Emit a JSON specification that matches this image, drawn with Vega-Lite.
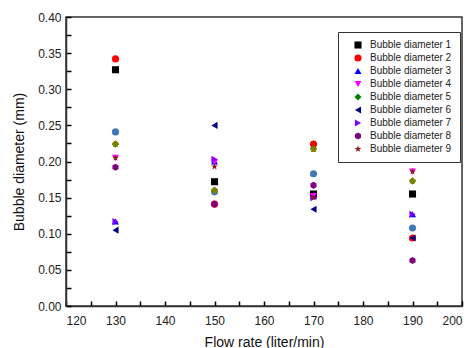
{
  "$schema": "https://vega.github.io/schema/vega-lite/v6.json",
  "width": 396,
  "height": 289,
  "autosize": {"type": "none"},
  "padding": {"left": 66, "top": 17, "right": 10, "bottom": 42},
  "background": "white",
  "config": {
    "view": {"stroke": "#333333", "strokeWidth": 1.5},
    "font": "Liberation Sans",
    "axis": {
      "domainColor": "#333333",
      "domainWidth": 1.5,
      "gridOpacity": 0,
      "labelFont": "Liberation Sans",
      "labelFontSize": 12,
      "labelColor": "#222222",
      "titleFont": "Liberation Sans",
      "titleFontSize": 14,
      "titleFontWeight": "normal",
      "titleColor": "#111111"
    },
    "legend": {
      "labelFont": "Liberation Sans",
      "labelFontSize": 10,
      "labelColor": "#222222"
    }
  },
  "data": {
    "values": [
      {"flow": 130, "d": 0.327, "series": "Bubble diameter 1"},
      {"flow": 150, "d": 0.172, "series": "Bubble diameter 1"},
      {"flow": 170, "d": 0.155, "series": "Bubble diameter 1"},
      {"flow": 190, "d": 0.155, "series": "Bubble diameter 1"},
      {"flow": 130, "d": 0.342, "series": "Bubble diameter 2"},
      {"flow": 150, "d": 0.141, "series": "Bubble diameter 2"},
      {"flow": 170, "d": 0.224, "series": "Bubble diameter 2"},
      {"flow": 190, "d": 0.094, "series": "Bubble diameter 2"},
      {"flow": 130, "d": 0.117, "series": "Bubble diameter 3"},
      {"flow": 150, "d": 0.2, "series": "Bubble diameter 3"},
      {"flow": 170, "d": 0.152, "series": "Bubble diameter 3"},
      {"flow": 190, "d": 0.127, "series": "Bubble diameter 3"},
      {"flow": 130, "d": 0.205, "series": "Bubble diameter 4"},
      {"flow": 150, "d": 0.199, "series": "Bubble diameter 4"},
      {"flow": 170, "d": 0.152, "series": "Bubble diameter 4"},
      {"flow": 190, "d": 0.186, "series": "Bubble diameter 4"},
      {"flow": 130, "d": 0.224, "series": "Bubble diameter 5"},
      {"flow": 150, "d": 0.16, "series": "Bubble diameter 5"},
      {"flow": 170, "d": 0.218, "series": "Bubble diameter 5"},
      {"flow": 190, "d": 0.173, "series": "Bubble diameter 5"},
      {"flow": 130, "d": 0.105, "series": "Bubble diameter 6"},
      {"flow": 150, "d": 0.25, "series": "Bubble diameter 6"},
      {"flow": 170, "d": 0.134, "series": "Bubble diameter 6"},
      {"flow": 190, "d": 0.094, "series": "Bubble diameter 6"},
      {"flow": 130, "d": 0.117, "series": "Bubble diameter 7"},
      {"flow": 150, "d": 0.203, "series": "Bubble diameter 7"},
      {"flow": 170, "d": 0.15, "series": "Bubble diameter 7"},
      {"flow": 190, "d": 0.127, "series": "Bubble diameter 7"},
      {"flow": 130, "d": 0.192, "series": "Bubble diameter 8"},
      {"flow": 150, "d": 0.141, "series": "Bubble diameter 8"},
      {"flow": 170, "d": 0.167, "series": "Bubble diameter 8"},
      {"flow": 190, "d": 0.063, "series": "Bubble diameter 8"},
      {"flow": 130, "d": 0.205, "series": "Bubble diameter 9"},
      {"flow": 150, "d": 0.193, "series": "Bubble diameter 9"},
      {"flow": 170, "d": 0.15, "series": "Bubble diameter 9"},
      {"flow": 190, "d": 0.186, "series": "Bubble diameter 9"},
      {"flow": 130, "d": 0.241, "series": "Bubble diameter 10"},
      {"flow": 150, "d": 0.158, "series": "Bubble diameter 10"},
      {"flow": 170, "d": 0.183, "series": "Bubble diameter 10"},
      {"flow": 190, "d": 0.108, "series": "Bubble diameter 10"},
      {"flow": 130, "d": 0.224, "series": "Bubble diameter 11"},
      {"flow": 150, "d": 0.16, "series": "Bubble diameter 11"},
      {"flow": 170, "d": 0.217, "series": "Bubble diameter 11"},
      {"flow": 190, "d": 0.173, "series": "Bubble diameter 11"}
    ]
  },
  "mark": {"type": "point", "filled": true, "opacity": 1, "size": 50},
  "encoding": {
    "x": {
      "field": "flow", "type": "quantitative",
      "scale": {"domain": [120, 200], "nice": false, "zero": false},
      "axis": {
        "title": "Flow rate (liter/min)",
        "values": [120,125,130,135,140,145,150,155,160,165,170,175,180,185,190,195,200],
        "labelExpr": "datum.value % 10 === 0 ? datum.value : ''",
        "tickColor": "#000000",
        "tickWidth": 1.5,
        "tickSize": -5,
        "labelPadding": 14,
        "titlePadding": 9
      }
    },
    "y": {
      "field": "d", "type": "quantitative",
      "scale": {"domain": [0, 0.4], "nice": false},
      "axis": {
        "title": "Bubble diameter (mm)",
        "values": [0,0.025,0.05,0.075,0.1,0.125,0.15,0.175,0.2,0.225,0.25,0.275,0.3,0.325,0.35,0.375,0.4],
        "labelExpr": "round(datum.value*1000) % 50 === 0 ? format(datum.value, '.2f') : ''",
        "tickColor": "#000000",
        "tickWidth": 1.5,
        "tickSize": -5,
        "labelPadding": 10,
        "titlePadding": 11
      }
    },
    "color": {
      "field": "series", "type": "nominal",
      "scale": {
        "domain": ["Bubble diameter 1","Bubble diameter 2","Bubble diameter 3","Bubble diameter 4","Bubble diameter 5","Bubble diameter 6","Bubble diameter 7","Bubble diameter 8","Bubble diameter 9","Bubble diameter 10","Bubble diameter 11"],
        "range": ["#000000","#ff0000","#0000ff","#ff00ff","#008000","#000080","#8000ff","#800080","#8b1a1a","#3f78b5","#808000"]
      },
      "legend": {
        "title": null,
        "values": ["Bubble diameter 1","Bubble diameter 2","Bubble diameter 3","Bubble diameter 4","Bubble diameter 5","Bubble diameter 6","Bubble diameter 7","Bubble diameter 8","Bubble diameter 9"],
        "orient": "none",
        "legendX": 272,
        "legendY": 15,
        "strokeColor": "#333333",
        "padding": 8,
        "rowPadding": 3,
        "symbolOffset": 7,
        "labelOffset": 7,
        "symbolSize": 50,
        "fillColor": "white"
      }
    },
    "shape": {
      "field": "series", "type": "nominal",
      "scale": {
        "domain": ["Bubble diameter 1","Bubble diameter 2","Bubble diameter 3","Bubble diameter 4","Bubble diameter 5","Bubble diameter 6","Bubble diameter 7","Bubble diameter 8","Bubble diameter 9","Bubble diameter 10","Bubble diameter 11"],
        "range": [
          "square",
          "circle",
          "triangle-up",
          "triangle-down",
          "diamond",
          "triangle-left",
          "triangle-right",
          "M0,-1L0.866,-0.5L0.866,0.5L0,1L-0.866,0.5L-0.866,-0.5Z",
          "M0,-1L0.235,-0.324L0.951,-0.309L0.38,0.124L0.588,0.809L0,0.4L-0.588,0.809L-0.38,0.124L-0.951,-0.309L-0.235,-0.324Z",
          "circle",
          "M0,-1L0.951,-0.309L0.588,0.809L-0.588,0.809L-0.951,-0.309Z"
        ]
      },
      "legend": {
        "title": null,
        "values": ["Bubble diameter 1","Bubble diameter 2","Bubble diameter 3","Bubble diameter 4","Bubble diameter 5","Bubble diameter 6","Bubble diameter 7","Bubble diameter 8","Bubble diameter 9"],
        "orient": "none",
        "legendX": 272,
        "legendY": 15
      }
    }
  }
}
